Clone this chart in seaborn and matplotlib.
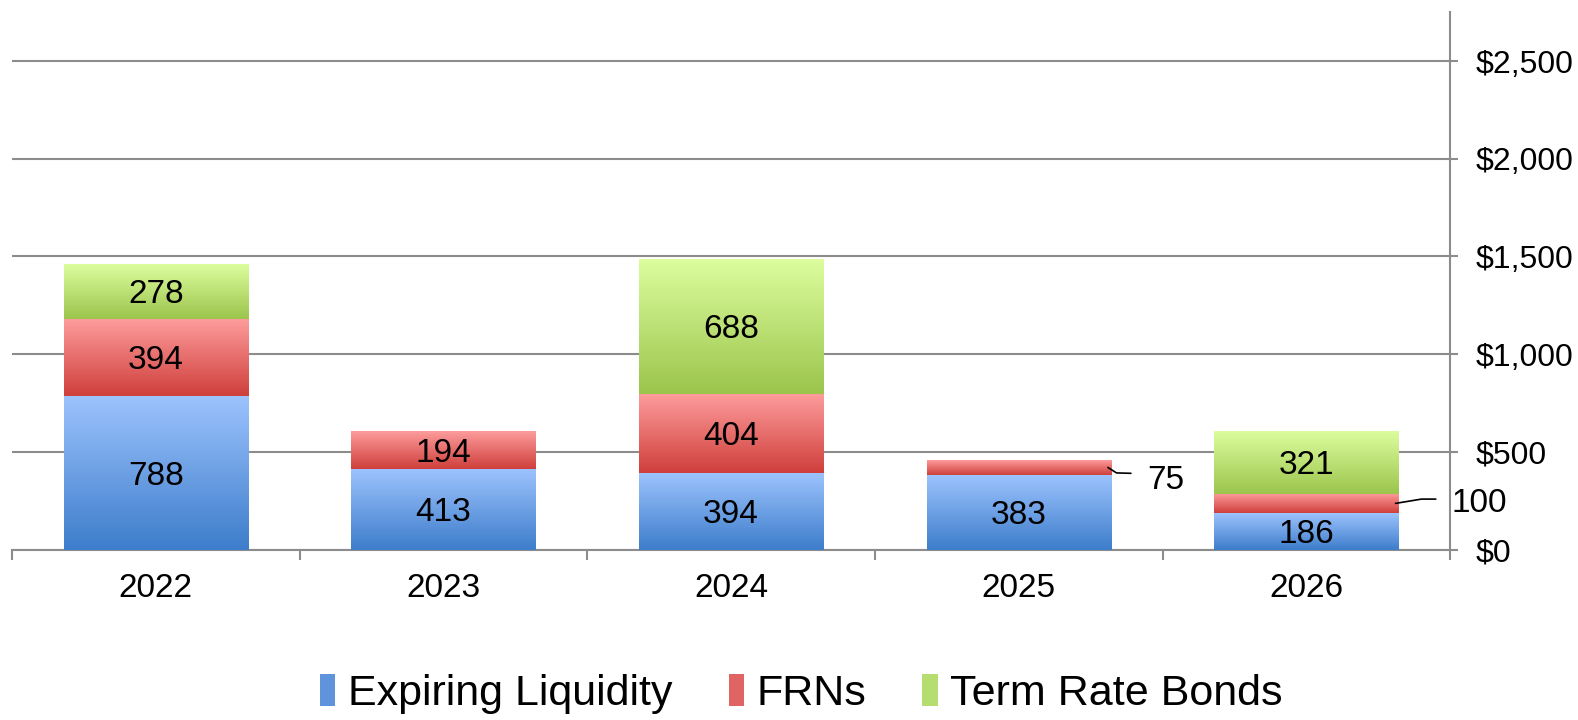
import numpy as np
import matplotlib
matplotlib.use("Agg")
import matplotlib.pyplot as plt
import pandas as pd
import seaborn as sns
from matplotlib.colors import LinearSegmentedColormap
from matplotlib.patches import Patch

years = ["2022", "2023", "2024", "2025", "2026"]
expiring = [788, 413, 394, 383, 186]
frns = [394, 194, 404, 75, 100]
term_bonds = [278, 0, 688, 0, 321]
series_names = ["Expiring Liquidity", "FRNs", "Term Rate Bonds"]
yticks = [0, 500, 1000, 1500, 2000, 2500]

# bottom / top colours of the gradient per series
grad_colors = {
    "Expiring Liquidity": ("#3d7dcb", "#9cc3fd"),
    "FRNs": ("#cf3f3b", "#fd9c9c"),
    "Term Rate Bonds": ("#9bc54c", "#ddfd9e"),
}
legend_colors = ["#5f93dc", "#e06463", "#b6dd6f"]

sns.set_theme(style="white")
plt.rcParams["font.family"] = ["Liberation Sans", "DejaVu Sans"]
plt.rcParams["text.color"] = "black"
plt.rcParams["xtick.color"] = "black"
plt.rcParams["ytick.color"] = "black"

df = pd.DataFrame({"year": years, "Expiring Liquidity": expiring,
                   "FRNs": frns, "Term Rate Bonds": term_bonds})
cum = df[series_names].cumsum(axis=1)

fig = plt.figure(figsize=(15.78, 7.2), dpi=100)
ax = fig.add_axes([0.0076, 0.2368, 0.9114, 0.7462])

# draw the cumulative bars from the top series down so the lower ones sit in front
layer_patches = {}
for name in reversed(series_names):
    n_before = len(ax.patches)
    sns.barplot(x=df["year"], y=cum[name], color=grad_colors[name][0],
                width=0.64, ax=ax, zorder=2, linewidth=0)
    layer_patches[name] = ax.patches[n_before:]

# turn each cumulative bar into its own segment and paint a vertical gradient
grad = np.linspace(0, 1, 256).reshape(-1, 1)
for k, name in enumerate(series_names):
    vals = df[name].values
    bottoms = cum[name].values - vals
    cmap = LinearSegmentedColormap.from_list(name, grad_colors[name])
    for p, v, b in zip(layer_patches[name], vals, bottoms):
        p.set_y(b)
        p.set_height(v)
        if v <= 0:
            continue
        x0, w = p.get_x(), p.get_width()
        im = ax.imshow(grad, extent=[x0, x0 + w, b, b + v], origin="lower",
                       aspect="auto", cmap=cmap, zorder=3)
        im.set_clip_path(p)

# value labels inside the segments
for name in series_names:
    vals = df[name].values
    bottoms = cum[name].values - vals
    for i, (v, b) in enumerate(zip(vals, bottoms)):
        if v < 150:
            continue
        ax.text(i, b + v / 2, f"{v}", ha="center", va="center_baseline",
                fontsize=24, color="black", zorder=5)

# small segments labelled outside with a leader line
ax.plot([3.31, 3.34, 3.39], [420, 392, 390], color="black", lw=1.2,
        zorder=5, clip_on=False)
ax.text(3.51, 371, f"{frns[3]}", ha="center", va="center_baseline", fontsize=24, zorder=5)
ax.plot([4.31, 4.40, 4.45], [236, 258, 258], color="black", lw=1.2,
        zorder=5, clip_on=False)
ax.text(4.60, 255, f"{frns[4]}", ha="center", va="center_baseline", fontsize=24,
        zorder=5, clip_on=False)

ax.set_xlim(-0.5, 4.5)
ax.set_ylim(0, 2750)
ax.set_xlabel("")
ax.set_ylabel("")

grid_c = "#8c8c8c"
ax.set_axisbelow(True)
ax.set_yticks(yticks)
ax.set_yticklabels([f"${v:,}" for v in yticks])
ax.yaxis.tick_right()
ax.yaxis.grid(True, color=grid_c, lw=1.5)
ax.tick_params(axis="y", which="major", direction="out", length=6, width=1.5,
               color=grid_c, labelcolor="black", labelsize=23, pad=12,
               right=True, left=False)

ax.set_xticks(np.arange(-0.5, 5, 1.0))
ax.set_xticklabels([""] * 6)
ax.set_xticks(np.arange(5), minor=True)
ax.set_xticklabels(years, minor=True)
ax.tick_params(axis="x", which="major", direction="out", length=7, width=1.5,
               color=grid_c, bottom=True)
ax.tick_params(axis="x", which="minor", length=0, labelsize=24, pad=17,
               labelcolor="black")

for s in ["left", "top"]:
    ax.spines[s].set_visible(False)
for s in ["right", "bottom"]:
    ax.spines[s].set_color(grid_c)
    ax.spines[s].set_linewidth(1.5)

handles = [Patch(facecolor=c, edgecolor="none") for c in legend_colors]
fig.legend(handles, series_names, loc="center", bbox_to_anchor=(0.508, 0.036),
           ncol=3, frameon=False, fontsize=31, handlelength=0.35, handleheight=0.75,
           handletextpad=0.3, columnspacing=1.3, labelcolor="black",
           borderpad=0.1)

fig.savefig("out.png", dpi=100)
